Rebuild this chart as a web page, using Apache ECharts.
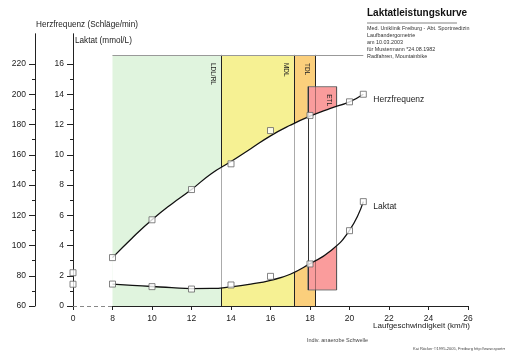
<!DOCTYPE html>
<html><head><meta charset="utf-8">
<script src="https://cdn.jsdelivr.net/npm/echarts@6/dist/echarts.min.js"></script>
<style>html,body{margin:0;padding:0;background:#fff}#c{width:505px;height:355px}</style>
</head><body><div id="c"></div>
<script>
// ---- data ----
const restPos = 6;                       // axis break: resting value drawn at first tick
const xTickValues = [6, 8, 10, 12, 14, 16, 18, 20, 22, 24, 26];
const xTickLabels = ['0', '8', '10', '12', '14', '16', '18', '20', '22', '24', '26'];
const hrTicks = [60, 80, 100, 120, 140, 160, 180, 200, 220];
const hrMinorTicks = [70, 90, 110, 130, 150, 170, 190, 210];
const lactTicks = [0, 2, 4, 6, 8, 10, 12, 14, 16];
const lactMinorTicks = [1, 3, 5, 7, 9, 11, 13, 15];

const stageSpeed   = [0, 8, 10, 12, 14, 16, 18, 20, 20.7];
const hrMeasured   = [82, 92, 117, 137, 154, 176, 186, 195, 200];
const lactMeasured = [1.44, 1.45, 1.28, 1.12, 1.39, 1.96, 2.78, 4.98, 6.9];

const fitSpeed = [8, 9, 10, 11, 12, 13, 14, 15, 16, 17, 18, 19, 20, 20.7];
const hrFit    = [92, 105, 117, 127.5, 137, 147.5, 155.5, 164, 172.5, 179.5, 185.5, 190.5, 195, 200];
const lactFit  = [1.45, 1.37, 1.29, 1.21, 1.15, 1.16, 1.27, 1.45, 1.7, 2.1, 2.8, 3.6, 5.0, 6.9];

const zoneNames = ['LDL/RL', 'MDL', 'TDL', 'ETL'];
const zoneFrom  = [8, 13.5, 17.18, 17.89];
const zoneTo    = [13.5, 17.18, 18.26, 19.35];
const zoneLow   = [0, 0, 0, 1.06];
const zoneHigh  = [16.6, 16.6, 16.6, 14.5];
const iasSpeed  = 18.0;

// axis relation: HR = hrMin + hrPerLact * lactate
const hrMin = 60, hrPerLact = 10;

// ---- chart ----
const F = 'Liberation Sans, Arial, sans-serif';
const INK = '#222';
const zoneColors = ['#e0f4de', '#f6f193', '#fbcf7c', '#fa9c9c'];
const xOf = v => (v < 8 ? restPos : v);

const zoneLabel = {
  show: true, position: 'insideTopRight', rotate: -90, distance: 8,
  align: 'left', verticalAlign: 'middle', fontSize: 6.5, fontFamily: F, color: INK, formatter: '{b}'
};
const zoneItem = i => [
  { name: zoneNames[i], coord: [zoneFrom[i], zoneHigh[i]], itemStyle: { color: zoneColors[i] } },
  { coord: [zoneTo[i], zoneLow[i]] }
];
const seg = (x1, y1, x2, y2, style) => [{ coord: [x1, y1], lineStyle: style }, { coord: [x2, y2] }];

// white band between the two fitted curves (value first so the stack runs on y)
const bandBase = fitSpeed.map((s, i) => [hrMin + hrPerLact * lactFit[i], s]);
const bandTop  = fitSpeed.map((s, i) => [hrFit[i] - (hrMin + hrPerLact * lactFit[i]), s]);

const grayOver = { color: 'rgba(0,0,0,0.33)', width: 1, type: 'solid' };
const dark = { color: '#333', width: 1, type: 'solid' };

const option = {
  animation: false,
  backgroundColor: '#fff',
  textStyle: { fontFamily: F },
  title: [
    { text: 'Laktatleistungskurve', left: 367, top: 8, padding: 0,
      textStyle: { fontSize: 10, fontWeight: 'bold', color: '#111', fontFamily: F } },
    { text: ['{hr|}', '{s|Med. Uniklinik Freiburg - Abt. Sportmedizin}', '{s|Laufbandergometrie}',
             '{s|am 10.03.2003}', '{s|für Mustermann *24.08.1982}', '{s|Radfahren, Mountainbike}'].join('\n'),
      left: 367, top: 20.5, padding: 0,
      textStyle: { fontFamily: F, fontWeight: 'normal', fontSize: 5.4, rich: {
        hr: { width: 90, height: 0, borderColor: '#888', borderWidth: 0.6, lineHeight: 5 },
        s: { fontSize: 5.4, lineHeight: 7, color: '#333', fontFamily: F, fontWeight: 'normal' } } } },
    { text: 'Laufgeschwindigkeit (km/h)', right: 35, top: 322, padding: 0,
      textStyle: { fontSize: 8, fontWeight: 'normal', color: INK, fontFamily: F } },
    { text: 'Indiv. anaerobe Schwelle', left: 307, top: 337, padding: 0,
      textStyle: { fontSize: 5.5, fontWeight: 'normal', color: '#444', fontFamily: F } },
    { text: 'Kai Röcker ©1995-2005, Freiburg http://www.sportmedizin.de', left: 413, top: 347, padding: 0,
      textStyle: { fontSize: 4, fontWeight: 'normal', color: '#444', fontFamily: F } }
  ],
  grid: { left: 73, right: 37, top: 33.75, bottom: 49, containLabel: false, outerBoundsMode: 'none' },
  xAxis: {
    type: 'value', min: 6, max: 26, interval: 2,
    axisLine: { show: false },
    axisTick: { show: true, length: 4, lineStyle: { color: INK } },
    axisLabel: { margin: 8, fontSize: 8.5, color: INK, fontFamily: F,
      formatter: v => { const k = xTickValues.indexOf(v); return k < 0 ? '' : xTickLabels[k]; } },
    splitLine: { show: false }
  },
  yAxis: [
    { type: 'value', min: 60, max: 240, position: 'left', offset: 38,
      name: 'Herzfrequenz (Schläge/min)', nameLocation: 'end', nameGap: 9,
      nameTextStyle: { align: 'left', verticalAlign: 'middle', fontSize: 8.2, color: INK, fontFamily: F, padding: [0, 0, 0, 1] },
      axisLine: { show: true, lineStyle: { color: INK } },
      axisTick: { show: true, length: 6, customValues: hrTicks, lineStyle: { color: INK } },
      axisLabel: { customValues: hrTicks, margin: 9, fontSize: 8.5, color: INK, fontFamily: F },
      splitLine: { show: false } },
    { type: 'value', min: 0, max: 18, position: 'left', offset: 0,
      name: 'Laktat (mmol/L)', nameLocation: 'end', nameGap: -7.25,
      nameTextStyle: { align: 'left', verticalAlign: 'middle', fontSize: 8.2, color: INK, fontFamily: F, padding: [0, 0, 0, 2] },
      axisLine: { show: true, lineStyle: { color: INK } },
      axisTick: { show: true, length: 6, customValues: lactTicks, lineStyle: { color: INK } },
      axisLabel: { customValues: lactTicks, margin: 9, fontSize: 8.5, color: INK, fontFamily: F },
      splitLine: { show: false } },
    { type: 'value', min: 60, max: 240, position: 'left', offset: 38,
      axisLine: { show: false }, axisLabel: { show: false }, splitLine: { show: false },
      axisTick: { show: true, length: 3, customValues: hrMinorTicks, lineStyle: { color: INK } } },
    { type: 'value', min: 0, max: 18, position: 'left', offset: 0,
      axisLine: { show: false }, axisLabel: { show: false }, splitLine: { show: false },
      axisTick: { show: true, length: 3, customValues: lactMinorTicks, lineStyle: { color: INK } } }
  ],
  series: [
    { type: 'line', name: 'zones', data: [], yAxisIndex: 1, z: 1, silent: true,
      markArea: { z: 1, silent: true, label: zoneLabel, data: [0, 1, 2].map(zoneItem) } },
    { type: 'line', name: 'edges', data: [], yAxisIndex: 1, z: 2, silent: true,
      markLine: { z: 2, silent: true, symbol: ['none', 'none'], label: { show: false }, lineStyle: dark,
        data: [0, 1, 2].map(i => seg(zoneTo[i], zoneLow[i], zoneTo[i], zoneHigh[i], dark)) } },
    { type: 'line', name: 'etl', data: [], yAxisIndex: 1, z: 3, silent: true,
      markArea: { z: 3, silent: true, label: zoneLabel,
        itemStyle: { borderColor: '#777', borderWidth: 1 }, data: [zoneItem(3)] } },
    { type: 'line', name: 'bandBase', data: bandBase, encode: { x: 1, y: 0 }, yAxisIndex: 0, z: 4, stack: 'band',
      smooth: true, symbol: 'none', silent: true, lineStyle: { width: 0, opacity: 0 } },
    { type: 'line', name: 'bandTop', data: bandTop, encode: { x: 1, y: 0 }, yAxisIndex: 0, z: 4, stack: 'band',
      smooth: true, symbol: 'none', silent: true, lineStyle: { width: 0, opacity: 0 },
      areaStyle: { color: '#fff', opacity: 1 } },
    { type: 'line', name: 'overlays', data: [], yAxisIndex: 1, z: 5, silent: true, clip: false,
      markLine: { z: 5, silent: true, symbol: ['none', 'none'], label: { show: false },
        data: [
          ...[0, 1, 2].map(i => seg(zoneTo[i], zoneLow[i], zoneTo[i], zoneHigh[i], grayOver)),
          seg(zoneTo[3], zoneLow[3], zoneTo[3], zoneHigh[3], grayOver),
          seg(zoneFrom[3], zoneLow[3], zoneFrom[3], zoneHigh[3], dark),
          seg(zoneFrom[0], zoneHigh[0], fitSpeed[fitSpeed.length - 1], zoneHigh[0], { color: '#999', width: 1, type: 'solid' }),
          seg(xTickValues[0], 0, xTickValues[1], 0, { color: '#888', width: 1, type: [4, 3] }),
          seg(xTickValues[1], 0, xTickValues[xTickValues.length - 1], 0, { color: INK, width: 1, type: 'solid' }),
          seg(iasSpeed, -0.13, iasSpeed, -1.6, { color: '#555', width: 1, type: 'solid' })
        ] } },
    { type: 'line', name: 'Herzfrequenz', data: fitSpeed.map((s, i) => [s, hrFit[i]]), yAxisIndex: 0, z: 6,
      smooth: true, symbol: 'none', silent: true, lineStyle: { color: '#111', width: 1.3 },
      endLabel: { show: true, formatter: '{a}', distance: 10, offset: [0, 5], fontSize: 8.5, color: INK, fontFamily: F } },
    { type: 'line', name: 'Laktat', data: fitSpeed.map((s, i) => [s, lactFit[i]]), yAxisIndex: 1, z: 6,
      smooth: true, symbol: 'none', silent: true, lineStyle: { color: '#111', width: 1.3 },
      endLabel: { show: true, formatter: '{a}', distance: 10, offset: [0, 5], fontSize: 8.5, color: INK, fontFamily: F } },
    { type: 'scatter', name: 'hrPts', data: stageSpeed.map((s, i) => [xOf(s), hrMeasured[i]]), yAxisIndex: 0, z: 7,
      symbol: 'rect', symbolSize: 6, silent: true, clip: false,
      itemStyle: { color: '#fff', borderColor: '#666', borderWidth: 1 } },
    { type: 'scatter', name: 'lactPts', data: stageSpeed.map((s, i) => [xOf(s), lactMeasured[i]]), yAxisIndex: 1, z: 7,
      symbol: 'rect', symbolSize: 6, silent: true, clip: false,
      itemStyle: { color: '#fff', borderColor: '#666', borderWidth: 1 } }
  ]
};
const chart = echarts.init(document.getElementById('c'), null, { renderer: 'canvas' });
chart.setOption(option);
</script></body></html>
